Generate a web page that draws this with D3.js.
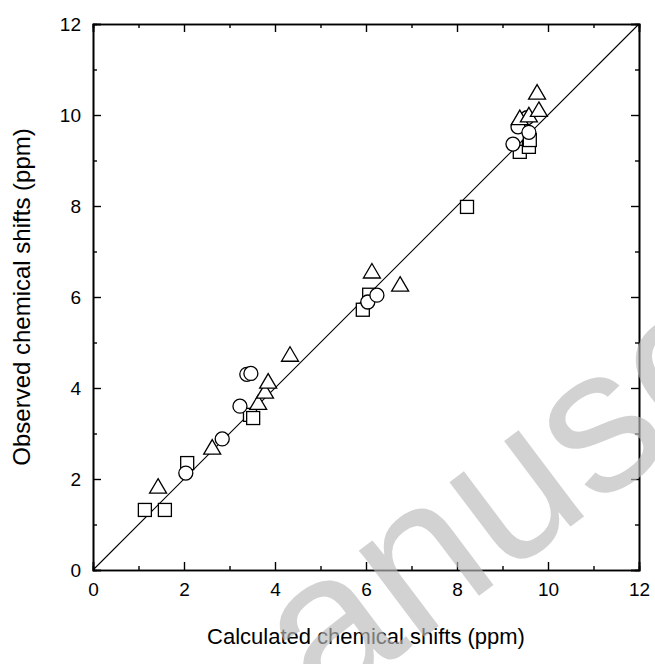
<!DOCTYPE html>
<html>
<head>
<meta charset="utf-8">
<script src="https://cdn.jsdelivr.net/npm/d3@7"></script>
<style>
  body { margin: 0; background: #fff; }
  text { font-family: "Liberation Sans", Arial, sans-serif; }
</style>
</head>
<body>
<div id="chart"></div>
<script>
// data (calculated, observed) in ppm
const squares = [
  [1.14, 1.32], [1.58, 1.32], [2.07, 2.35], [3.45, 3.41], [3.52, 3.34],
  [5.93, 5.72], [6.07, 6.05], [8.22, 7.98], [9.38, 9.19], [9.58, 9.3], [9.6, 9.45]
];
const circles = [
  [2.04, 2.13], [2.84, 2.88], [3.23, 3.6], [3.38, 4.3], [3.47, 4.32],
  [6.04, 5.89], [6.24, 6.04], [9.23, 9.36], [9.34, 9.74], [9.54, 9.94], [9.58, 9.62]
];
const triangles = [
  [1.43, 1.82], [2.62, 2.68], [3.63, 3.66], [3.78, 3.91], [3.85, 4.13],
  [4.33, 4.72], [6.13, 6.55], [6.75, 6.26], [9.38, 9.92], [9.58, 9.98],
  [9.8, 10.1], [9.76, 10.48]
];
const majorTicks = [0, 2, 4, 6, 8, 10, 12];
const minorTicks = [1, 3, 5, 7, 9, 11];

const margin = {top: 24, right: 16, bottom: 94, left: 93},
  width = 655 - margin.left - margin.right,
  height = 664 - margin.top - margin.bottom;

const svgRoot = d3.select("#chart")
  .append("svg")
    .attr("width", 655)
    .attr("height", 664);

const svg = svgRoot.append("g")
  .attr("transform", `translate(${margin.left}, ${margin.top})`);

const x = d3.scaleLinear().domain([0, 12]).range([0, width]);
const y = d3.scaleLinear().domain([0, 12]).range([height, 0]);

// y = x reference line
svg.append("line")
  .attr("x1", x(0)).attr("y1", y(0))
  .attr("x2", x(12)).attr("y2", y(12))
  .attr("stroke", "#000")
  .attr("stroke-width", 1.1);

// markers
const sq = 13;
svg.selectAll(".sq")
  .data(squares)
  .join("rect")
    .attr("x", d => x(d[0]) - sq / 2)
    .attr("y", d => y(d[1]) - sq / 2)
    .attr("width", sq)
    .attr("height", sq)
    .attr("fill", "#fff")
    .attr("stroke", "#000")
    .attr("stroke-width", 1.3);

svg.selectAll(".ci")
  .data(circles)
  .join("circle")
    .attr("cx", d => x(d[0]))
    .attr("cy", d => y(d[1]))
    .attr("r", 7)
    .attr("fill", "#fff")
    .attr("stroke", "#000")
    .attr("stroke-width", 1.3);

svg.selectAll(".tri")
  .data(triangles)
  .join("path")
    .attr("transform", d => `translate(${x(d[0])}, ${y(d[1])})`)
    .attr("d", "M0,-8.5L8.5,6L-8.5,6Z")
    .attr("fill", "#fff")
    .attr("stroke", "#000")
    .attr("stroke-width", 1.3);

// axes, ticks pointing inward on all four sides
function styleAxis(g) {
  g.selectAll("path.domain").attr("stroke-width", 1.6);
  g.selectAll(".tick line").attr("stroke-width", 1.4);
  g.selectAll("text")
    .style("font-family", '"Liberation Sans", Arial, sans-serif')
    .style("font-size", "19px")
    .attr("fill", "#000");
}

svg.append("g")
  .attr("transform", `translate(0, ${height})`)
  .call(d3.axisBottom(x).tickValues(majorTicks).tickSize(-8).tickPadding(13).tickFormat(d3.format("d")))
  .call(styleAxis);
svg.append("g")
  .attr("transform", `translate(0, ${height})`)
  .call(d3.axisBottom(x).tickValues(minorTicks).tickSize(-4).tickFormat(""))
  .call(styleAxis);

svg.append("g")
  .call(d3.axisLeft(y).tickValues(majorTicks).tickSize(-8).tickPadding(12).tickFormat(d3.format("d")))
  .call(styleAxis);
svg.append("g")
  .call(d3.axisLeft(y).tickValues(minorTicks).tickSize(-4).tickFormat(""))
  .call(styleAxis);

svg.append("g")
  .call(d3.axisTop(x).tickValues(majorTicks).tickSize(-8).tickFormat(""))
  .call(styleAxis);
svg.append("g")
  .call(d3.axisTop(x).tickValues(minorTicks).tickSize(-4).tickFormat(""))
  .call(styleAxis);

svg.append("g")
  .attr("transform", `translate(${width}, 0)`)
  .call(d3.axisRight(y).tickValues(majorTicks).tickSize(-8).tickFormat(""))
  .call(styleAxis);
svg.append("g")
  .attr("transform", `translate(${width}, 0)`)
  .call(d3.axisRight(y).tickValues(minorTicks).tickSize(-4).tickFormat(""))
  .call(styleAxis);

// axis titles
svg.append("text")
  .attr("text-anchor", "middle")
  .attr("x", width / 2)
  .attr("y", height + 74)
  .style("font-size", "22px")
  .text("Calculated chemical shifts (ppm)");

svg.append("text")
  .attr("text-anchor", "middle")
  .attr("transform", `translate(${-63}, ${height / 2}) rotate(-90)`)
  .style("font-size", "24px")
  .text("Observed chemical shifts (ppm)");

// watermark on top
svgRoot.append("text")
  .attr("transform", "translate(322, 714) rotate(-37)")
  .attr("fill", "#bbbbbb")
  .attr("opacity", 0.65)
  .style("font-size", "205px")
  .text("anusc");
</script>
</body>
</html>
